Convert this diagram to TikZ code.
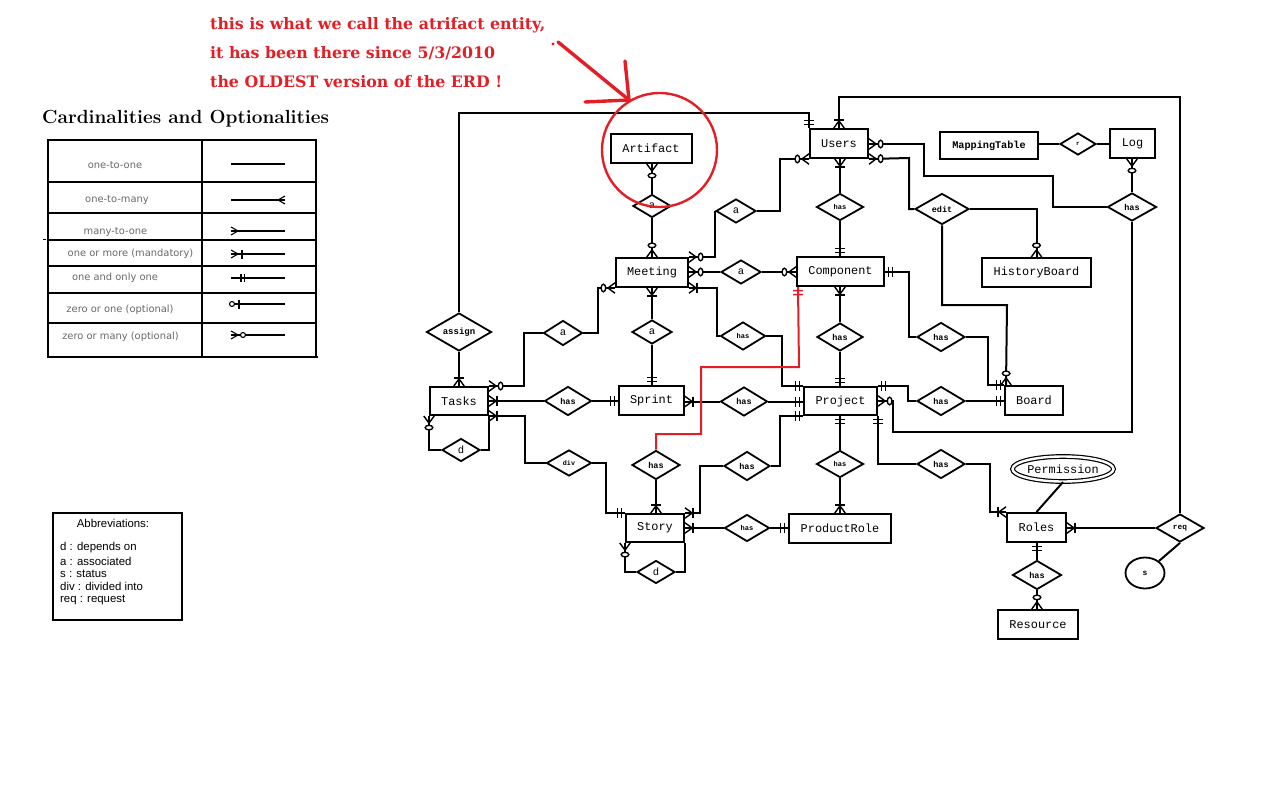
\documentclass[tikz,border=0pt]{standalone}
\usepackage{fontspec}
\newfontfamily\monof{Liberation Mono}
\newfontfamily\legf{DejaVu Sans}
\newfontfamily\abbf{Liberation Sans}
\newfontfamily\redf{DejaVu Serif}
\usetikzlibrary{shapes.geometric,decorations.markings,calc}
\definecolor{redc}{RGB}{226,30,38}
\definecolor{leggray}{RGB}{105,105,105}
\tikzset{
  sz/.style 2 args={minimum width=#1pt,minimum height=#2pt},
  ent/.style={draw,line width=2pt,rectangle,inner sep=0pt,font=\monof\fontsize{11.9}{13}\selectfont},
  rel/.style={draw,line width=1.8pt,diamond,aspect=1.7,inner sep=0pt,font=\monof\bfseries\fontsize{8.5}{9}\selectfont},
  relsm/.style={rel,font=\monof\bfseries\fontsize{7}{8}\selectfont},
  rela/.style={rel,font=\monof\fontsize{10.5}{11}\selectfont},
  conn/.style={line width=2pt},
  legtxt/.style={inner sep=0pt,text=leggray,font=\legf\fontsize{9.9}{11}\selectfont},
  legsym/.style={line width=1.1pt},
  abbtxt/.style={anchor=west,inner sep=0pt,font=\abbf\fontsize{11.4}{12}\selectfont},
  redtxt/.style={anchor=base west,inner sep=0pt,text=redc,font=\redf\bfseries\fontsize{15.8}{17}\selectfont},
  redstroke/.style={draw=redc,line width=3.4pt,line cap=round},
  m1n/.style={postaction={decorate,decoration={markings,mark=at position -0.1pt with {%
     \draw[line width=1.4pt] (0.1pt,5.2pt)--(-7pt,0pt)--(0.1pt,-5.2pt);
     \draw[line width=1.4pt] (-8pt,-5pt)--(-8pt,5pt);}}}},
  m0n/.style={postaction={decorate,decoration={markings,mark=at position -0.1pt with {%
     \draw[line width=1.4pt] (0.1pt,5.2pt)--(-7pt,0pt)--(0.1pt,-5.2pt);
     \draw[line width=1.4pt,fill=white] (-11.5pt,0pt) ellipse [x radius=2.3pt,y radius=3.8pt];}}}},
  m11/.style={postaction={decorate,decoration={markings,mark=at position -0.1pt with {%
     \draw[line width=1.4pt] (-3.5pt,-5pt)--(-3.5pt,5pt);
     \draw[line width=1.4pt] (-7.5pt,-5pt)--(-7.5pt,5pt);}}}},
}
\begin{document}
\begin{tikzpicture}[x=1pt,y=-1pt]
\useasboundingbox (0,0) rectangle (1280,800);
\fill[white] (0,0) rectangle (1280,800);

% ---------------- entities
\node[ent,sz={81}{29}] (Artifact) at (651,148.5) {Artifact};
\node[ent,sz={58}{29}] (Users) at (839,143.5) {Users};
\node[ent,sz={98}{27},font=\monof\bfseries\fontsize{10.2}{11}\selectfont] (Mapping) at (989,145.5) {MappingTable};
\node[ent,sz={45}{29}] (Log) at (1132.5,143.5) {Log};
\node[ent,sz={87}{29}] (Component) at (840.5,271.5) {Component};
\node[ent,sz={109}{29}] (History) at (1036.5,272.5) {HistoryBoard};
\node[ent,sz={72}{29}] (Meeting) at (652,272.5) {Meeting};
\node[ent,sz={58}{28}] (Tasks) at (459,401) {Tasks};
\node[ent,sz={65}{29}] (Sprint) at (651.5,400.5) {Sprint};
\node[ent,sz={73}{28}] (Project) at (840.5,401) {Project};
\node[ent,sz={58}{29}] (Board) at (1034,400.5) {Board};
\node[ent,sz={58}{28}] (Story) at (655,528) {Story};
\node[ent,sz={102}{29}] (ProductRole) at (840,528.5) {ProductRole};
\node[ent,sz={59}{29}] (Roles) at (1036.5,527.5) {Roles};
\node[ent,sz={80}{29}] (Resource) at (1038,624.5) {Resource};
\node[ent,ellipse,double,double distance=2.4pt,line width=1.2pt,sz={100}{25}] (Permission) at (1063,469) {Permission};
\node[draw,ellipse,line width=1.8pt,sz={39}{31},inner sep=0pt,font=\monof\bfseries\fontsize{8}{9}\selectfont] (s) at (1145,573) {s};

% ---------------- relationships
\node[rela,sz={38}{23}] (dAA) at (652,206) {a};
\node[rela,sz={40}{24}] (dMU) at (736,211) {a};
\node[rela,sz={40}{24}] (dMC) at (741,272) {a};
\node[relsm,sz={47}{27}] (dUC) at (840,207) {has};
\node[rel,sz={54}{31}] (dEdit) at (942,209) {edit};
\node[rel,sz={36}{22},font=\monof\bfseries\fontsize{6}{7}\selectfont] (dR) at (1078,144) {r};
\node[rel,sz={49}{28}] (dLog) at (1132,207) {has};
\node[rel,sz={65}{38},font=\monof\bfseries\fontsize{9}{10}\selectfont] (dAssign) at (459,332) {assign};
\node[rela,sz={39}{25}] (dTM) at (563,333) {a};
\node[rela,sz={40}{24}] (dMS) at (652,332) {a};
\node[relsm,sz={45}{28}] (dMP) at (743,336) {has};
\node[rel,sz={47}{29}] (dTS) at (568,401) {has};
\node[rel,sz={47}{29}] (dSP) at (744,401.5) {has};
\node[rela,sz={38}{23}] (dTd) at (461,450) {d};
\node[rel,sz={45}{26},font=\monof\bfseries\fontsize{6.7}{7}\selectfont] (dDiv) at (569,463) {div};
\node[rel,sz={48}{29}] (dSC) at (656,465) {has};
\node[rel,sz={46}{29}] (dStP) at (747,466) {has};
\node[rel,sz={46}{28}] (dCP) at (840,337) {has};
\node[rel,sz={48}{29}] (dCB) at (941,337) {has};
\node[rel,sz={48}{29}] (dPB) at (941,401) {has};
\node[relsm,sz={47}{27}] (dPR) at (840,464) {has};
\node[rel,sz={48}{29}] (dPRo) at (941,464) {has};
\node[relsm,sz={45}{27}] (dSR) at (747,528) {has};
\node[rela,sz={38}{23}] (dSd) at (656,572) {d};
\node[rel,sz={49}{29}] (dRR) at (1037,575) {has};
\node[rel,sz={48}{28},font=\monof\bfseries\fontsize{7.8}{8}\selectfont] (dReq) at (1180,528) {req};

% ---------------- connectors
\draw[conn,m0n] (dAA.north) -- (dAA.north |- Artifact.south);
\draw[conn,m0n] (dAA.south) -- (Meeting.north);
\draw[conn,m0n] (dMU.west) |- (Meeting.north east);
\draw[conn,m0n] (dMU.east) -- (780,211) |- (Users.south west);
\draw[conn,m0n] (dMC.west) -- (dMC.west -| Meeting.east);
\draw[conn,m0n] (dMC.east) -- (dMC.east -| Component.west);
\draw[conn,m1n] (dUC.north) -- (dUC.north |- Users.south);
\draw[conn,m11] (dUC.south) -- (dUC.south |- Component.north);
\draw[conn,m0n] (dLog.west) -- (1053,207) -- (1053,176) -- (924,176) -- (924,144) -- (Users.east |- 0,144);
\draw[conn,m0n] (dLog.north) -- (dLog.north |- Log.south);
\draw[conn,m0n] (dLog.south) -- (1132,432) -- (893,432) -- (893,401) -- (Project.east);
\draw[conn,m0n] (dEdit.west) -- (909,209) -- (909,158) -- (Users.south east);
\draw[conn,m0n] (dEdit.east) -| (History.north);
\draw[conn,m0n] (dEdit.south) -- (942,305) -- (1007,305) -- ([xshift=2pt]Board.north west);
\draw[conn,m1n] (dReq.north) -- (1180,97) -| (Users.north);
\draw[conn,m11] (dAssign.north) -- (459,113) -| (Users.north west);
\draw[conn,m1n] (dAssign.south) -- (Tasks.north);
\draw[conn,m0n] (dTM.west) -- (524,333) |- (Tasks.north east);
\draw[conn,m0n] (dTM.east) -- (598,333) |- (Meeting.south west);
\draw[conn,m1n] (dMS.north) -- (Meeting.south);
\draw[conn,m11] (dMS.south) -- (dMS.south |- Sprint.north);
\draw[conn,m1n] (dMP.west) -- (717,336) |- (Meeting.south east);
\draw[conn,m11] (dMP.east) -- (782,336) |- (Project.north west);
\draw[conn,m1n] (dTS.west) -- (Tasks.east);
\draw[conn,m11] (dTS.east) -- (dTS.east -| Sprint.west);
\draw[conn,m1n] (dSP.west) -- (dSP.west -| Sprint.east);
\draw[conn,m11] (dSP.east) -- (dSP.east -| Project.west);
\draw[conn,m1n] (dDiv.west) -- (525,463) |- (Tasks.south east);
\draw[conn,m11] (dDiv.east) -- (606,463) |- (Story.north west);
\draw[conn,m0n] (dTd.west) -| (Tasks.south west);
\draw[conn] (dTd.east) -| (Tasks.south east);
\draw[conn,m0n] (dSd.west) -| (Story.south west);
\draw[conn] (dSd.east) -| (Story.south east);
\draw[conn,m11,color=redc] (dSC.north) -- (656,434) -- (701,434) -- (701,367) -- (799,367) -- ([xshift=2pt]Component.south west);
\draw[conn,m1n] (dSC.south) -- (dSC.south |- Story.north);
\draw[conn,m1n] (dStP.west) -- (700,466) |- (Story.north east);
\draw[conn,m11] (dStP.east) -- (780,466) |- (Project.south west);
\draw[conn,m1n] (dSR.west) -- (dSR.west -| Story.east);
\draw[conn,m11] (dSR.east) -- (dSR.east -| ProductRole.west);
\draw[conn,m1n] (dCP.north) -- (dCP.north |- Component.south);
\draw[conn,m11] (dCP.south) -- (dCP.south |- Project.north);
\draw[conn,m11] (dCB.west) -- (909,337) |- (Component.east);
\draw[conn,m11] (dCB.east) -- (988,337) |- (Board.north west);
\draw[conn,m11] (dPB.west) -- (908,401) |- (Project.north east);
\draw[conn,m11] (dPB.east) -- (dPB.east -| Board.west);
\draw[conn,m11] (dPR.north) -- (dPR.north |- Project.south);
\draw[conn,m1n] (dPR.south) -- (dPR.south |- ProductRole.north);
\draw[conn,m11] (dPRo.west) -| (Project.south east);
\draw[conn,m1n] (dPRo.east) -- (990,464) |- (Roles.north west);
\draw[conn] (Permission.south) -- (Roles.north);
\draw[conn,m11] (dRR.north) -- (dRR.north |- Roles.south);
\draw[conn,m0n] (dRR.south) -- (dRR.south |- Resource.north);
\draw[conn,m1n] (dReq.west) -- (dReq.west -| Roles.east);
\draw[conn] (dReq.south) -- (s);
\draw[conn] (dR.west) -- (dR.west -| Mapping.east);
\draw[conn] (dR.east) -- (dR.east -| Log.west);

% ---------------- red annotation
\draw[draw=redc,line width=2.4pt] (659.5,150) ellipse [x radius=57.5pt,y radius=57pt];
\draw[redstroke] (558,42) -- (629,100);
\draw[redstroke] (625,61) -- (629,100);
\draw[redstroke] (585,102) -- (629,100);
\fill[redc] (553,44) circle (1.6pt);
\node[redtxt] (t1) at (210,30) {this is what we call the atrifact entity,};
\node[redtxt] (t2) at (210,59) {it has been there since 5/3/2010};
\node[redtxt] (t3) at (210,88) {the OLDEST version of the ERD !};

% ---------------- legend
\node[anchor=base west,inner sep=0pt,font=\bfseries\fontsize{19}{21}\selectfont] (legtitle) at (42,123) {Cardinalities and Optionalities};
\draw[line width=1.8pt] (48,140) rectangle (316,357);
\draw[line width=1.8pt] (202,140) -- (202,357);
\draw[line width=1.8pt] (316,357) -- (318,357);
\foreach \yy in {182,213,240,266,293,323} \draw[line width=1.1pt] (48,\yy) -- (316,\yy);
\draw[line width=1pt] (43,239) -- (46,239);
\node[legtxt] (l1) at (115,165) {one-to-one};
\node[legtxt] (l2) at (117,200) {one-to-many};
\node[legtxt] (l3) at (115.5,232) {many-to-one};
\node[legtxt] (l4) at (130.5,254) {one or more (mandatory)};
\node[legtxt] (l5) at (115,278) {one and only one};
\node[legtxt] (l6) at (120,310) {zero or one (optional)};
\node[legtxt] (l7) at (120.5,337) {zero or many (optional)};
\draw[legsym] (231,164) -- (285,164);
\draw[legsym] (231,200) -- (285,200);
\draw[legsym] (285,196) -- (278,200) -- (285,204);
\draw[legsym] (231,231) -- (285,231);
\draw[legsym] (231,227) -- (238,231) -- (231,235);
\draw[legsym] (231,254) -- (285,254);
\draw[legsym] (231,250) -- (238,254) -- (231,258);
\draw[legsym] (242,249.5) -- (242,258.5);
\draw[legsym] (231,278) -- (285,278);
\draw[legsym] (241,274) -- (241,282);
\draw[legsym] (244.5,274) -- (244.5,282);
\draw[legsym] (234.5,304) -- (285,304);
\draw[legsym] (232,304) circle (2.5pt);
\draw[legsym] (239,299.5) -- (239,308.5);
\draw[legsym] (231,335) -- (285,335);
\draw[legsym] (231,331) -- (238,335) -- (231,339);
\draw[legsym,fill=white] (243,335) circle (2.5pt);

% ---------------- abbreviations
\draw[line width=1.3pt] (53,513) rectangle (182,620);
\node[inner sep=0pt,font=\abbf\fontsize{11.4}{12}\selectfont] (abbt) at (113,523) {Abbreviations:};
\node[abbtxt] (ab1) at (60,548) {d : depends on};
\node[abbtxt] (ab2) at (60,561) {a : associated};
\node[abbtxt] (ab3) at (60,573.5) {s : status};
\node[abbtxt] (ab4) at (60,586.5) {div : divided into};
\node[abbtxt] (ab5) at (60,599.5) {req : request};
\end{tikzpicture}
\end{document}
